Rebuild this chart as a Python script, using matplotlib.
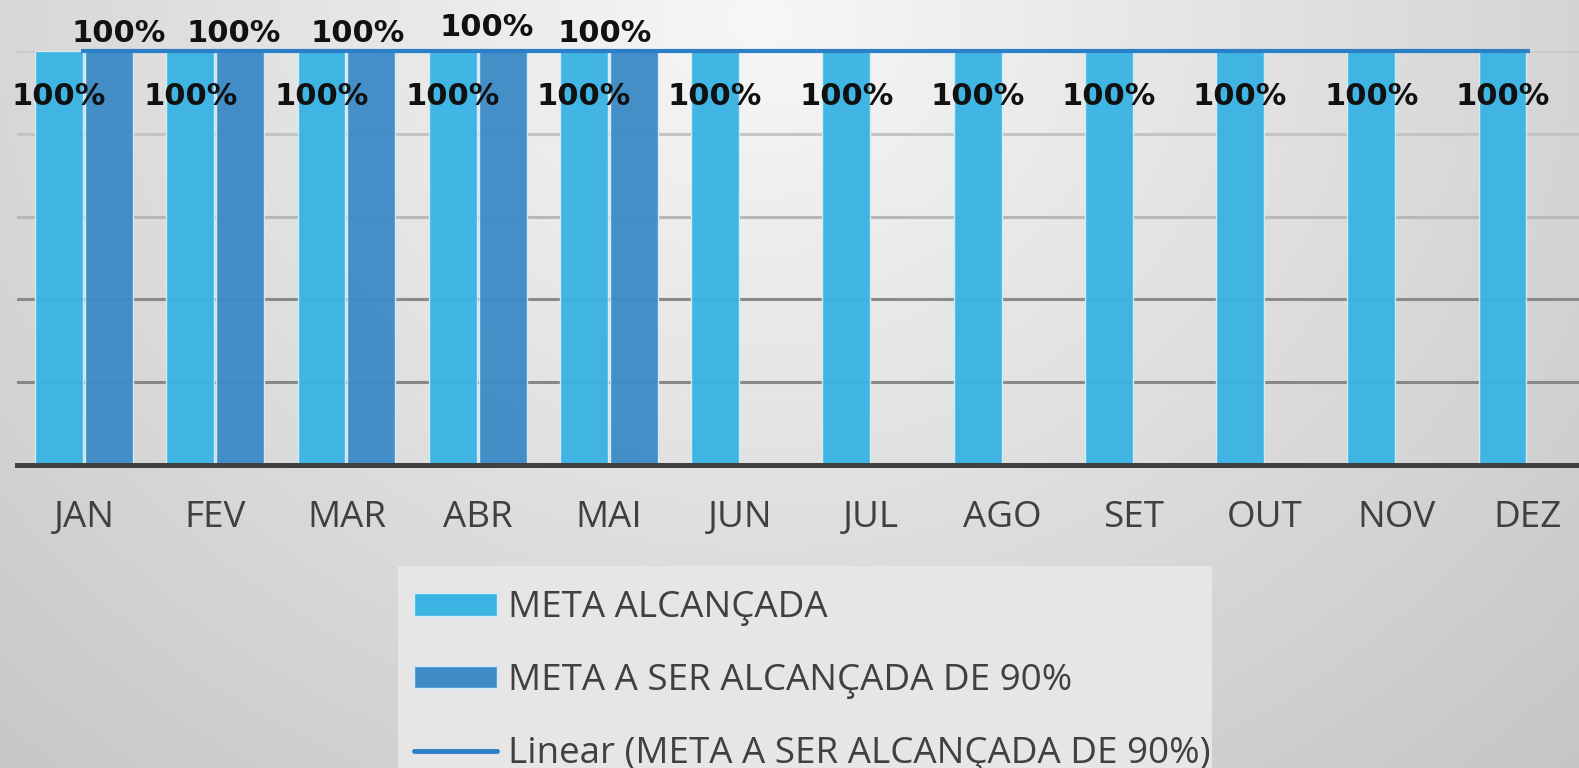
import numpy as np
import matplotlib
matplotlib.use("Agg")
import matplotlib.pyplot as plt
from matplotlib.patches import Patch, Rectangle
from matplotlib.lines import Line2D
from matplotlib.transforms import offset_copy

# dados mensais
meses = ["JAN", "FEV", "MAR", "ABR", "MAI", "JUN", "JUL", "AGO", "SET", "OUT", "NOV", "DEZ"]
meta_alcancada = [1.0, 1.0, 1.0, 1.0, 1.0, 1.0, 1.0, 1.0, 1.0, 1.0, 1.0, 1.0]
meta_90 = [1.0, 1.0, 1.0, 1.0, 1.0]  # só até maio

cor_clara = "#3bb4e4"
cor_escura = "#3f8cc8"
cor_tendencia = "#2a7fc6"
cor_texto = "#404040"

plt.rcParams["font.family"] = ["Open Sans", "DejaVu Sans"]

fig = plt.figure(figsize=(15.79, 7.68), dpi=100)

# fundo em degradê radial
bg = fig.add_axes([0, 0, 1, 1], zorder=-10)
yy, xx = np.mgrid[0:768, 0:1579]
d = np.sqrt(((xx - 760) / 900.0) ** 2 + ((yy - 20) / 800.0) ** 2)
tom = np.clip(0.97 - 0.15 * d, 0, 1)
bg.imshow(np.dstack([tom, tom, tom]), aspect="auto", extent=[0, 1, 0, 1])
bg.axis("off")

# a área do gráfico passa um pouco da borda direita
ax = fig.add_axes([17 / 1579, 303 / 768, 1576 / 1579, 414 / 768])
ax.set_facecolor("none")

x = np.arange(len(meses))
larg = 0.365
desl = 0.19

# linhas de grade
cores_grade = ["#888888", "#8a8a8a", "#b8b8b8", "#c4c4c4", "#cacaca"]
for v, c in zip([0.2, 0.4, 0.6, 0.8, 1.0], cores_grade):
    ax.axhline(v, color=c, lw=2.2, zorder=0)

ax.bar(x - desl, meta_alcancada, width=larg, color=cor_clara, alpha=0.97,
       edgecolor="#d4ecf7", linewidth=1, zorder=2)
x2 = x[:len(meta_90)]
ax.bar(x2 + desl, meta_90, width=larg, color=cor_escura, alpha=0.97,
       edgecolor="#d4ecf7", linewidth=1, zorder=2)

# tendência linear da meta de 90%
coef = np.polyfit(x2 + desl, meta_90, 1)
xt = np.array([-0.027, 11.02])
ax.plot(xt, np.polyval(coef, xt), color=cor_tendencia, lw=3, zorder=3,
        solid_capstyle="butt", clip_on=False)

for xi, v in zip(x - desl, meta_alcancada):
    ax.text(xi, v - 0.111, f"{v:.0%}", ha="center", va="center",
            fontsize=22, fontweight="bold", color="#111111", zorder=5,
            family="DejaVu Sans")

# rótulos da série escura afastados para não se sobrepor (em pixels)
ajuste_dx = [10, -7, -14, -16, -29]
ajuste_dy = [0, 0, 0, 6, 0]
for xi, v, dx, dy in zip(x2 + desl, meta_90, ajuste_dx, ajuste_dy):
    tr = offset_copy(ax.transData, fig=fig, x=dx, y=dy, units="dots")
    ax.text(xi, v + 0.043, f"{v:.0%}", ha="center", va="center",
            fontsize=22, fontweight="bold", color="#111111", zorder=5,
            family="DejaVu Sans", clip_on=False, transform=tr)

ax.set_xlim(-0.511, 11.5)
ax.set_ylim(0, 1.0)
ax.set_yticks([])
ax.set_xticks(x)
ax.set_xticklabels(meses, fontsize=26.5, color=cor_texto)
ax.tick_params(axis="x", length=0, pad=25)
for s in ["top", "right", "left"]:
    ax.spines[s].set_visible(False)
ax.spines["bottom"].set_color("#404040")
ax.spines["bottom"].set_linewidth(3.6)
ax.spines["bottom"].set_zorder(4)

# caixa da legenda
fig.patches.append(Rectangle((398 / 1579, -0.05), (1212 - 398) / 1579,
                             0.05 + (768 - 566) / 768, transform=fig.transFigure,
                             facecolor="#e6e6e6", edgecolor="none", zorder=0))

handles = [
    Patch(facecolor=cor_clara, edgecolor="#d4ecf7"),
    Patch(facecolor=cor_escura, edgecolor="#d4ecf7"),
    Line2D([0], [0], color=cor_tendencia, lw=3.5, solid_capstyle="round"),
]
labels = ["META ALCANÇADA", "META A SER ALCANÇADA DE 90%",
          "Linear (META A SER ALCANÇADA DE 90%)"]
leg = fig.legend(handles, labels, loc="upper left",
                 bbox_to_anchor=(396 / 1579, 1 - 572 / 768),
                 frameon=False, fontsize=26.5, handlelength=2.25, handleheight=0.56,
                 handletextpad=0.3, labelspacing=1.0, borderpad=0)
for t in leg.get_texts():
    t.set_color(cor_texto)

fig.savefig("out.png", dpi=100)
